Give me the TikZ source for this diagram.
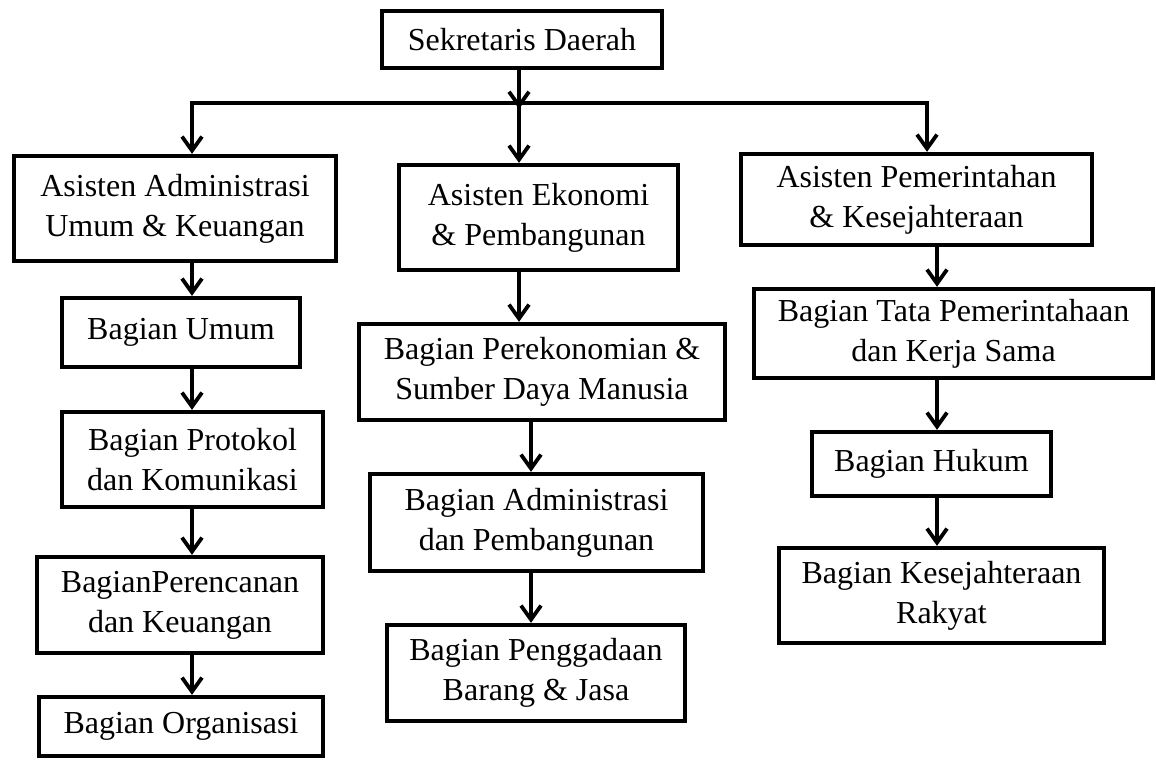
\documentclass[tikz,border=0pt]{standalone}
\usepackage{fontspec}
\setmainfont{Liberation Serif}
\usetikzlibrary{arrows.meta}

\begin{document}
\begin{tikzpicture}[x=0.5pt, y=-0.5pt,
        box/.style={draw, line width=1.9pt, align=center, inner sep=0pt, font=\fontsize{16}{20}\selectfont},
        arr/.style={-{Straight Barb[length=7pt,width=10pt]}, line width=1.9pt}]
        \useasboundingbox (0,0) rectangle (1156,760);

        \node (sek) [box, minimum width=140pt, minimum height=28.75pt] at (522,39.5) {Sekretaris Daerah};

        \node (aa) [box, minimum width=161.25pt, minimum height=52.75pt] at (175,208.5) {Asisten Administrasi\\Umum \& Keuangan};
        \node (umum) [box, minimum width=119.25pt, minimum height=34.75pt] at (181,332.5) {Bagian Umum};
        \node (prot) [box, minimum width=130.75pt, minimum height=47.75pt] at (192.5,459.5) {Bagian Protokol\\dan Komunikasi};
        \node (renc) [box, minimum width=143.25pt, minimum height=48.25pt] at (180,605) {BagianPerencanan\\dan Keuangan};
        \node (org) [box, minimum width=142.25pt, minimum height=29.75pt] at (181,726.5) {Bagian Organisasi};

        \node (ae) [box, minimum width=139.75pt, minimum height=52.75pt] at (538.5,217.5) {Asisten Ekonomi\\\& Pembangunan};
        \node (ekon) [box, minimum width=183.25pt, minimum height=48.25pt] at (542,372) {Bagian Perekonomian \&\\Sumber Daya Manusia};
        \node (adm) [box, minimum width=166.75pt, minimum height=48.75pt] at (536.5,522.5) {Bagian Administrasi\\dan Pembangunan};
        \node (peng) [box, minimum width=149.25pt, minimum height=48.25pt] at (536,673) {Bagian Penggadaan\\Barang \& Jasa};

        \node (ap) [box, minimum width=175.75pt, minimum height=45.75pt] at (916.5,199.5) {Asisten Pemerintahan\\\& Kesejahteraan};
        \node (tata) [box, minimum width=199.75pt, minimum height=44.75pt] at (953.5,333.5) {Bagian Tata Pemerintahaan\\dan Kerja Sama};
        \node (hukum) [box, minimum width=119.75pt, minimum height=32.25pt] at (931.5,464) {Bagian Hukum};
        \node (kesej) [box, minimum width=162.75pt, minimum height=47.75pt] at (941.5,595.5) {Bagian Kesejahteraan\\Rakyat};

        % branch line
        \coordinate (hl) at (192,103);
        \coordinate (hm) at (519,103);
        \coordinate (hr) at (927,103);
        \coordinate (lcol) at (192,0);
        \coordinate (mcol) at (531,0);
        \coordinate (rcol) at (937,0);

        \draw[arr] (sek.south -| hm) -- ([yshift=-3pt]hm);
        \draw[{Straight Barb[length=7pt,width=10pt]}-{Straight Barb[length=7pt,width=10pt]}, line width=1.9pt] (ap.north -| hr) -- (hr) -- (hl) -- (aa.north -| hl);
        \draw[arr] (hm) -- (ae.north -| hm);

        \draw[arr] (aa.south -| lcol) -- (umum.north -| lcol);
        \draw[arr] (umum.south -| lcol) -- (prot.north -| lcol);
        \draw[arr] (prot.south -| lcol) -- (renc.north -| lcol);
        \draw[arr] (renc.south -| lcol) -- (org.north -| lcol);

        \draw[arr] (ae.south -| hm) -- (ekon.north -| hm);
        \draw[arr] (ekon.south -| mcol) -- (adm.north -| mcol);
        \draw[arr] (adm.south -| mcol) -- (peng.north -| mcol);

        \draw[arr] (ap.south -| rcol) -- (tata.north -| rcol);
        \draw[arr] (tata.south -| rcol) -- (hukum.north -| rcol);
        \draw[arr] (hukum.south -| rcol) -- (kesej.north -| rcol);
    \end{tikzpicture}
\end{document}
